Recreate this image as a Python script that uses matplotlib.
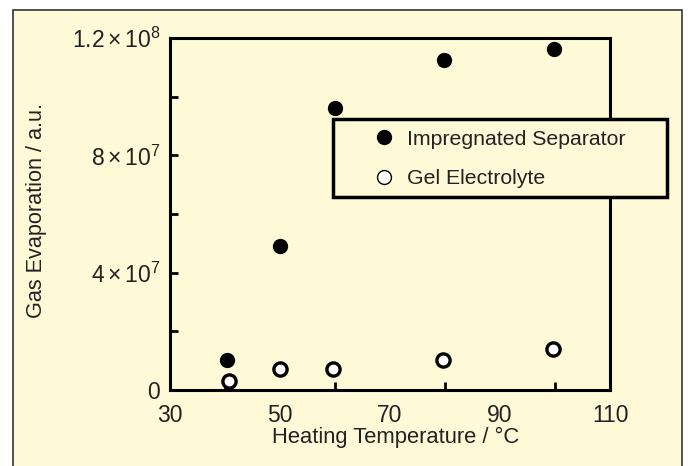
import matplotlib
matplotlib.use("Agg")
import matplotlib.pyplot as plt
from matplotlib.patches import Rectangle
from matplotlib.lines import Line2D

plt.rcParams['font.family'] = ['Liberation Sans', 'DejaVu Sans']
plt.rcParams['mathtext.fontset'] = 'custom'
plt.rcParams['mathtext.rm'] = 'Liberation Sans'
plt.rcParams['mathtext.it'] = 'Liberation Sans'
plt.rcParams['mathtext.default'] = 'regular'

# Data
temp_impregnated = [40.3, 50, 60, 79.8, 99.8]
gas_impregnated = [1.02e7, 4.9e7, 9.6e7, 1.125e8, 1.163e8]
temp_gel = [40.8, 50, 59.7, 79.7, 99.7]
gas_gel = [3.1e6, 7.2e6, 7.2e6, 1.02e7, 1.4e7]

series_names = ["Impregnated Separator", "Gel Electrolyte"]
x_ticks = [30, 50, 70, 90, 110]
x_minor = [40, 50, 60, 70, 80, 90, 100]
y_ticks = [0, 4e7, 8e7, 1.2e8]
y_tick_labels = ["0", r"$4\times10^{7}$", r"$8\times10^{7}$", r"$1.2\times10^{8}$"]
y_minor = [2e7, 6e7, 1e8]

bg = '#fef9d7'
txt = '#222222'

fig = plt.figure(figsize=(6.9, 4.66), dpi=100)
fig.patch.set_facecolor('white')
# cream panel with dark border
panel = Rectangle((12.5/690, -0.01), (682-12.5)/690, 1 - 10/466 + 0.01,
                  transform=fig.transFigure, facecolor=bg,
                  edgecolor='#333333', linewidth=1.2, zorder=-5)
fig.patches.append(panel)

ax = fig.add_axes([170/690, 1 - 390/466, (610-170)/690, (390-38)/466])
ax.set_zorder(1)
ax.patch.set_alpha(0)
for s in ax.spines.values():
    s.set_linewidth(2.2)
    s.set_color('black')

ax.plot(temp_impregnated, gas_impregnated, 'o', color='black', markersize=10,
        markeredgecolor='black', clip_on=False, zorder=3)
ax.plot(temp_gel, gas_gel, 'o', markerfacecolor='white', markeredgecolor='black',
        markersize=9.5, markeredgewidth=2.4, clip_on=False, zorder=3)

ax.set_xlim(30, 110)
ax.set_ylim(0, 1.2e8)
ax.set_xticks(x_ticks)
ax.set_xticklabels([str(v) for v in x_ticks])
ax.set_xticks(x_minor, minor=True)
ax.set_yticks(y_ticks)
ax.set_yticklabels(y_tick_labels)
ax.set_yticks(y_minor, minor=True)
ax.tick_params(axis='x', which='major', length=0, pad=10, labelsize=16.5, labelcolor=txt)
ax.tick_params(axis='x', which='minor', direction='in', length=6, width=2)
ax.tick_params(axis='y', which='major', direction='in', length=6, width=2, pad=7,
               labelsize=16.5, labelcolor=txt)
ax.tick_params(axis='y', which='minor', direction='in', length=6, width=2)

fig.text(396/690, 1 - 437/466, "Heating Temperature / \u00b0C", ha='center', va='center',
         fontsize=15.8, color=txt)
fig.text(37/690, 1 - 210/466, "Gas Evaporation / a.u.", ha='center', va='center',
         rotation=90, fontsize=15.6, color=txt)

# legend box
legbox = Rectangle((333/690, 1 - 197/466), (667-333)/690, (197-119)/466,
                   transform=fig.transFigure, facecolor=bg,
                   edgecolor='black', linewidth=2.5, zorder=5)
fig.patches.append(legbox)
handles = [Line2D([], [], linestyle='none', marker='o', color='black', markersize=10),
           Line2D([], [], linestyle='none', marker='o', markerfacecolor='white',
                  markeredgecolor='black', markersize=10, markeredgewidth=1)]
leg = fig.legend(handles, series_names, loc='center left',
                 bbox_to_anchor=(363/690, 1 - 159/466), frameon=False,
                 fontsize=15.3, handletextpad=0.55, handlelength=1.0,
                 labelspacing=0.95, borderpad=0)
for t in leg.get_texts():
    t.set_color(txt)
leg.set_zorder(6)

fig.savefig('out.png', dpi=100, facecolor='white')
